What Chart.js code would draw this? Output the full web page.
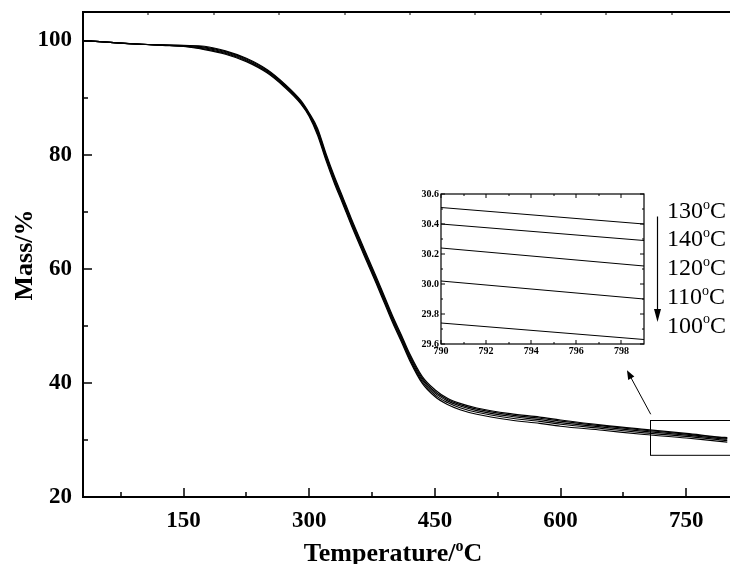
<!DOCTYPE html>
<html>
<head>
<meta charset="utf-8">
<script src="https://cdn.jsdelivr.net/npm/chart.js@4.4.0/dist/chart.umd.min.js"></script>
<style>
  html, body { margin: 0; padding: 0; background: #fff; overflow: hidden; }
  #wrap { position: relative; width: 730px; height: 564px; overflow: hidden; }
  #main { position: absolute; left: 0; top: 0; }
  #inset { position: absolute; left: 405px; top: 185px; }
</style>
</head>
<body>
<div id="wrap">
  <canvas id="main" width="745" height="564"></canvas>
  <canvas id="inset" width="245" height="175"></canvas>
</div>
<script>
// TGA curves, mass (%) vs temperature (°C)
const temperature = [30, 50, 75, 100, 125, 150, 175, 200, 225, 250, 270, 290, 300, 310, 320, 330, 340, 350, 365, 380,
  390, 400, 410, 420, 435, 450, 465, 480, 500, 540, 575, 600, 650, 700, 750, 790, 799];

const mass130 = [100.0, 99.8, 99.55, 99.35, 99.25, 99.15, 99.0, 98.2, 96.9, 94.9, 92.5, 89.5, 87.3, 84.6, 80.2, 76.2, 72.6, 68.9, 63.7, 58.6,
  55.1, 51.6, 48.4, 45.1, 41.1, 38.8, 37.3, 36.4, 35.6, 34.6, 34.0, 33.5, 32.6, 31.85, 31.15, 30.51, 30.40];
const mass140 = [100.0, 99.8, 99.55, 99.35, 99.22, 99.1, 98.85, 98.05, 96.75, 94.75, 92.35, 89.35, 87.15, 84.3, 79.9, 75.9, 72.3, 68.6, 63.4, 58.3,
  54.8, 51.3, 48.1, 44.8, 40.8, 38.5, 37.1, 36.2, 35.4, 34.4, 33.8, 33.3, 32.45, 31.7, 31.03, 30.40, 30.29];
const mass120 = [100.0, 99.8, 99.55, 99.35, 99.2, 99.05, 98.7, 97.9, 96.6, 94.6, 92.2, 89.2, 87.0, 84.0, 79.6, 75.6, 72.0, 68.3, 63.1, 58.0,
  54.5, 51.0, 47.8, 44.5, 40.5, 38.2, 36.85, 35.95, 35.15, 34.15, 33.55, 33.05, 32.25, 31.5, 30.86, 30.24, 30.12];
const mass110 = [100.0, 99.8, 99.55, 99.35, 99.18, 99.0, 98.55, 97.75, 96.45, 94.45, 92.05, 89.05, 86.85, 83.7, 79.3, 75.3, 71.7, 68.0, 62.8, 57.7,
  54.2, 50.7, 47.5, 44.2, 40.2, 37.9, 36.55, 35.65, 34.85, 33.85, 33.25, 32.75, 32.0, 31.25, 30.63, 30.02, 29.90];
const mass100 = [100.0, 99.8, 99.55, 99.35, 99.15, 98.95, 98.4, 97.6, 96.3, 94.3, 91.9, 88.9, 86.7, 83.4, 79.0, 75.0, 71.4, 67.7, 62.5, 57.4,
  53.9, 50.4, 47.2, 43.9, 39.9, 37.6, 36.2, 35.3, 34.5, 33.5, 32.9, 32.4, 31.7, 30.95, 30.34, 29.74, 29.63];

const seriesNames = ['130', '140', '120', '110', '100'];
const seriesMass = [mass130, mass140, mass120, mass110, mass100];

// main axes
const xMajor = [150, 300, 450, 600, 750];
const xMinor = [75, 225, 375, 525, 675];
const xTop = [108.1, 186.2, 264.2, 342.3, 420.4, 498.4, 576.5, 654.6, 732.6];
const yMajor = [20, 40, 60, 80, 100];
const yMinor = [30, 50, 70, 90];

// inset axes (enlarged 790-799 °C)
const insetT = [790, 799];
const insetXMajor = [790, 792, 794, 796, 798];
const insetXMinor = [791, 793, 795, 797];
const insetYMajor = [29.6, 29.8, 30.0, 30.2, 30.4, 30.6];
const insetYMinor = [29.7, 29.9, 30.1, 30.3, 30.5];

// zoomed region marker and pointer arrow, in data units
const zoomBox = { x0: 707, x1: 830, y0: 27.4, y1: 33.5 };
const arrowFrom = { x: 707.6, y: 34.5 };
const arrowTo = { x: 679.3, y: 42.2 };

const serif = '"Liberation Serif", "Times New Roman", serif';

function tickMarks(ctx, scale, values, len, side, area) {
  values.forEach(v => {
    const p = Math.round(scale.getPixelForValue(v));
    ctx.beginPath();
    if (side === 'bottom') { ctx.moveTo(p, area.bottom); ctx.lineTo(p, area.bottom - len); }
    if (side === 'top') { ctx.moveTo(p, area.top); ctx.lineTo(p, area.top + len); }
    if (side === 'left') { ctx.moveTo(area.left, p); ctx.lineTo(area.left + len, p); }
    if (side === 'right') { ctx.moveTo(area.right, p); ctx.lineTo(area.right - len, p); }
    ctx.stroke();
  });
}

// text with a raised small "o" for the degree sign
function degText(ctx, pre, post, x, y, size, weight, align) {
  const big = weight + ' ' + size + 'px ' + serif;
  const small = weight + ' ' + Math.round(size * 0.6) + 'px ' + serif;
  ctx.font = big;
  const w1 = ctx.measureText(pre).width;
  const w3 = ctx.measureText(post).width;
  ctx.font = small;
  const w2 = ctx.measureText('o').width;
  let x0 = x;
  if (align === 'center') x0 = x - (w1 + w2 + w3) / 2;
  ctx.textAlign = 'left';
  ctx.textBaseline = 'alphabetic';
  ctx.font = big;
  ctx.fillText(pre, x0, y);
  ctx.font = small;
  ctx.fillText('o', x0 + w1, y - size * 0.38);
  ctx.font = big;
  ctx.fillText(post, x0 + w1 + w2, y);
}

const mainDecor = {
  id: 'mainDecor',
  afterDraw(chart) {
    const ctx = chart.ctx;
    const a = chart.chartArea;
    const xs = chart.scales.x, ys = chart.scales.y;
    ctx.save();
    ctx.strokeStyle = '#000';
    ctx.fillStyle = '#000';

    ctx.lineWidth = 2;
    ctx.strokeRect(a.left, a.top, a.right - a.left, a.bottom - a.top);

    ctx.lineWidth = 1.5;
    tickMarks(ctx, xs, xMajor, 9, 'bottom', a);
    tickMarks(ctx, xs, xMinor, 5, 'bottom', a);
    tickMarks(ctx, ys, yMajor, 9, 'left', a);
    tickMarks(ctx, ys, yMinor, 5, 'left', a);
    ctx.lineWidth = 1;
    tickMarks(ctx, xs, xTop, 3, 'top', a);

    // zoomed region box
    const bx0 = xs.getPixelForValue(zoomBox.x0), bx1 = xs.getPixelForValue(zoomBox.x1);
    const by0 = ys.getPixelForValue(zoomBox.y1), by1 = ys.getPixelForValue(zoomBox.y0);
    ctx.lineWidth = 1;
    ctx.strokeRect(Math.round(bx0) + 0.5, Math.round(by0) + 0.5, bx1 - bx0, by1 - by0);

    // pointer arrow towards the inset
    const ax0 = xs.getPixelForValue(arrowFrom.x), ay0 = ys.getPixelForValue(arrowFrom.y);
    const ax1 = xs.getPixelForValue(arrowTo.x), ay1 = ys.getPixelForValue(arrowTo.y);
    const ang = Math.atan2(ay1 - ay0, ax1 - ax0);
    ctx.beginPath();
    ctx.moveTo(ax0, ay0);
    ctx.lineTo(ax1 - 6 * Math.cos(ang), ay1 - 6 * Math.sin(ang));
    ctx.stroke();
    ctx.beginPath();
    ctx.moveTo(ax1, ay1);
    ctx.lineTo(ax1 - 9 * Math.cos(ang) + 3.5 * Math.sin(ang), ay1 - 9 * Math.sin(ang) - 3.5 * Math.cos(ang));
    ctx.lineTo(ax1 - 9 * Math.cos(ang) - 3.5 * Math.sin(ang), ay1 - 9 * Math.sin(ang) + 3.5 * Math.cos(ang));
    ctx.closePath();
    ctx.fill();

    // series labels beside the inset, with downward arrow
    seriesNames.forEach((n, i) => {
      degText(ctx, n, 'C', 667, 217.7 + i * 28.7, 24, 'normal', 'left');
    });
    ctx.lineWidth = 1.2;
    ctx.beginPath();
    ctx.moveTo(657.5, 216.5);
    ctx.lineTo(657.5, 312);
    ctx.stroke();
    ctx.beginPath();
    ctx.moveTo(657.5, 322);
    ctx.lineTo(654, 309);
    ctx.lineTo(661, 309);
    ctx.closePath();
    ctx.fill();

    // axis titles
    degText(ctx, 'Temperature/', 'C', 393, 560.5, 26, 'bold', 'center');
    ctx.save();
    ctx.translate(31.7, 255);
    ctx.rotate(-Math.PI / 2);
    ctx.font = 'bold 26px ' + serif;
    ctx.textAlign = 'center';
    ctx.textBaseline = 'alphabetic';
    ctx.fillText('Mass/%', 0, 0);
    ctx.restore();

    ctx.restore();
  }
};

const insetDecor = {
  id: 'insetDecor',
  afterDraw(chart) {
    const ctx = chart.ctx;
    const a = chart.chartArea;
    const xs = chart.scales.x, ys = chart.scales.y;
    ctx.save();
    ctx.strokeStyle = '#000';
    ctx.lineWidth = 1.2;
    ctx.strokeRect(a.left, a.top, a.right - a.left, a.bottom - a.top);
    ctx.lineWidth = 1;
    tickMarks(ctx, xs, insetXMajor, 4, 'bottom', a);
    tickMarks(ctx, xs, insetXMinor, 2, 'bottom', a);
    tickMarks(ctx, xs, insetXMajor, 4, 'top', a);
    tickMarks(ctx, xs, insetXMinor, 2, 'top', a);
    tickMarks(ctx, ys, insetYMajor, 4, 'left', a);
    tickMarks(ctx, ys, insetYMinor, 2, 'left', a);
    tickMarks(ctx, ys, insetYMajor, 4, 'right', a);
    tickMarks(ctx, ys, insetYMinor, 2, 'right', a);
    ctx.restore();
  }
};

const noGrid = { display: false, drawTicks: false };

function fixX(h) {
  return s => { s.height = h; s.paddingLeft = 0; s.paddingRight = 0; };
}
function fixY(w) {
  return s => { s.width = w; s.paddingTop = 0; s.paddingBottom = 0; };
}

function buildCharts() {
  new Chart(document.getElementById('main'), {
    type: 'line',
    data: {
      datasets: seriesMass.map((m, i) => ({
        label: seriesNames[i] + ' °C',
        data: temperature.map((t, j) => ({ x: t, y: m[j] })),
        borderColor: '#000',
        borderWidth: 1.2,
        pointRadius: 0,
        fill: false,
        cubicInterpolationMode: 'monotone'
      }))
    },
    options: {
      responsive: false,
      animation: false,
      layout: { padding: { top: 12, right: 8, left: 0, bottom: 0 } },
      plugins: { legend: { display: false }, tooltip: { enabled: false } },
      scales: {
        x: {
          type: 'linear',
          min: 30,
          max: 810.6,
          afterFit: fixX(67),
          afterBuildTicks: s => { s.ticks = xMajor.map(v => ({ value: v })); },
          grid: noGrid,
          border: { display: false },
          ticks: {
            color: '#000',
            font: { family: serif, size: 23, weight: 'bold' },
            padding: 10,
            maxRotation: 0,
            autoSkip: false
          }
        },
        y: {
          type: 'linear',
          min: 20,
          max: 105,
          afterFit: fixY(83),
          afterBuildTicks: s => { s.ticks = yMajor.map(v => ({ value: v })); },
          grid: noGrid,
          border: { display: false },
          ticks: {
            color: '#000',
            font: { family: serif, size: 23, weight: 'bold' },
            padding: 11
          }
        }
      }
    },
    plugins: [mainDecor]
  });

  new Chart(document.getElementById('inset'), {
    type: 'line',
    data: {
      datasets: seriesMass.map((m, i) => ({
        label: seriesNames[i] + ' °C',
        data: insetT.map((t, j) => ({ x: t, y: m[m.length - insetT.length + j] })),
        borderColor: '#000',
        borderWidth: 1,
        pointRadius: 0,
        fill: false
      }))
    },
    options: {
      responsive: false,
      animation: false,
      layout: { padding: { top: 9, right: 6, left: 0, bottom: 0 } },
      plugins: { legend: { display: false }, tooltip: { enabled: false } },
      scales: {
        x: {
          type: 'linear',
          min: 790,
          max: 799,
          afterFit: fixX(16),
          afterBuildTicks: s => { s.ticks = insetXMajor.map(v => ({ value: v })); },
          grid: noGrid,
          border: { display: false },
          ticks: {
            color: '#000',
            font: { family: serif, size: 10, weight: 'bold' },
            padding: 1,
            maxRotation: 0,
            autoSkip: false
          }
        },
        y: {
          type: 'linear',
          min: 29.6,
          max: 30.6,
          afterFit: fixY(36),
          afterBuildTicks: s => { s.ticks = insetYMajor.map(v => ({ value: v })); },
          grid: noGrid,
          border: { display: false },
          ticks: {
            color: '#000',
            font: { family: serif, size: 10, weight: 'bold' },
            padding: 2,
            callback: v => v.toFixed(1)
          }
        }
      }
    },
    plugins: [insetDecor]
  });
}

Promise.all([
  document.fonts.load('bold 23px "Liberation Serif"'),
  document.fonts.load('24px "Liberation Serif"')
]).then(buildCharts, buildCharts);
</script>
</body>
</html>
